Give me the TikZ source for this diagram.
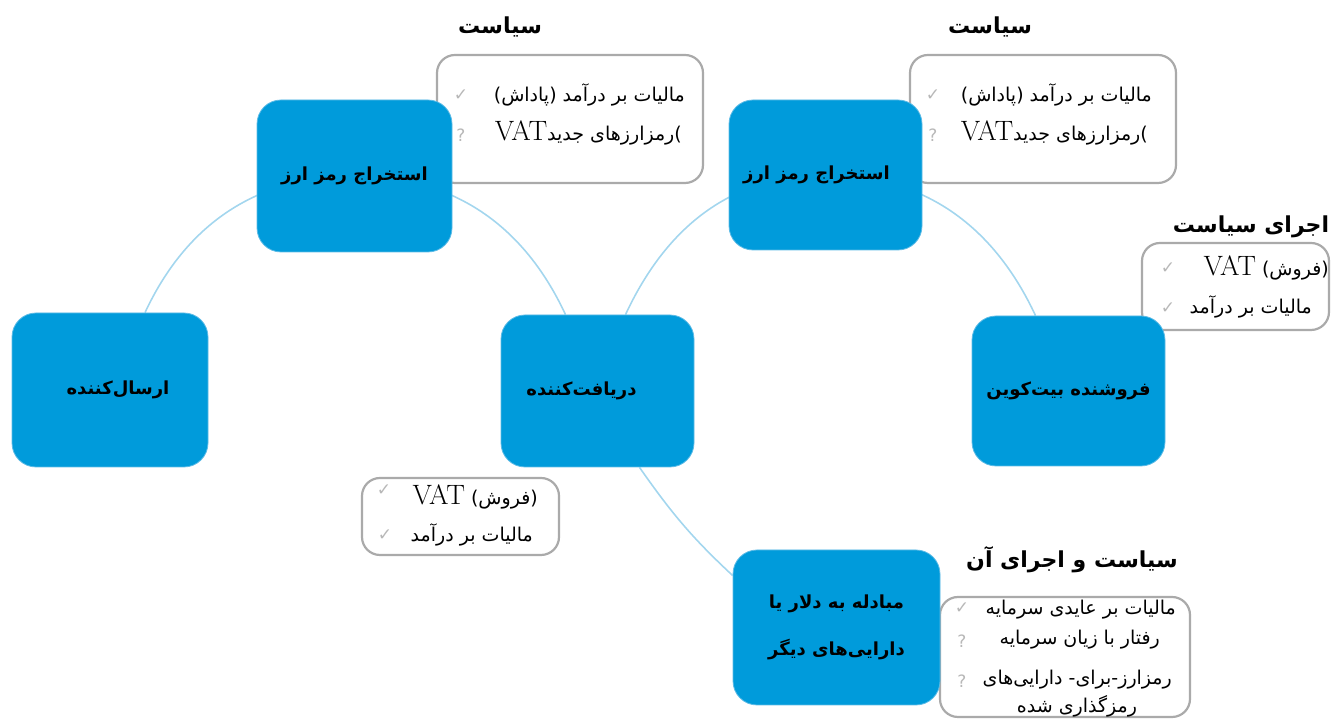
\documentclass[tikz,border=0pt]{standalone}
\usepackage{fontspec}
\newfontfamily\fa[Script=Arabic]{DejaVu Sans}
\newfontfamily\sym{DejaVu Sans}
\TeXXeTstate=1
\usetikzlibrary{backgrounds,calc}
\definecolor{boxblue}{HTML}{009BDB}
\definecolor{boxedge}{HTML}{5DBBE6}
\definecolor{linkblue}{HTML}{A3D6EE}
\definecolor{pborder}{HTML}{AAAAAA}
\definecolor{markgray}{HTML}{B8B8B8}
\tikzset{
  actor/.style={fill=boxblue, draw=boxedge, line width=0.8pt, rounded corners=24pt,
    font=\fa\bfseries\fontsize{18}{21}\selectfont, text=black, align=center},
  policy/.style={fill=white, draw=pborder, line width=2.2pt, rounded corners=18pt},
  ptitle/.style={font=\fa\bfseries\fontsize{22}{25}\selectfont, inner sep=0pt},
  item/.style={font=\fa\fontsize{19}{22}\selectfont, inner sep=0pt, anchor=east},
  chk/.style={font=\sym\fontsize{17}{19}\selectfont, text=markgray, inner sep=0pt},
  link/.style={draw=linkblue, line width=1.6pt},
}
\newcommand{\vatw}{{\rmfamily\fontsize{28}{29}\selectfont VAT}}
\begin{document}
\begin{tikzpicture}[x=1pt,y=1pt]
\useasboundingbox (0,0) rectangle (1331,719);
% policy boxes
\node[policy, minimum width=266pt, minimum height=128pt] (pL) at (570,600) {};
\node[policy, minimum width=266pt, minimum height=128pt] (pR) at (1043,600) {};
\node[policy, minimum width=187pt, minimum height=87pt] (pS) at (1235.5,432.5) {};
\node[policy, minimum width=197pt, minimum height=77pt] (pB1) at (460.5,202.5) {};
\node[policy, minimum width=250pt, minimum height=120pt] (pB2) at (1065,62) {};
% titles
\node[ptitle] (tL) at (500,692) {\beginR سیاست\endR};
\node[ptitle] (tR) at (990,692) {\beginR سیاست\endR};
\node[ptitle] (tS) at (1251,492) {\beginR اجرای سیاست\endR};
\node[ptitle] (tB) at (1072,159) {\beginR سیاست و اجرای آن\endR};
% items: top left
\node[item] (pL1) at (685,624) {\beginR مالیات بر درآمد (پاداش)\endR};
\node[item] (pL2) at (682,586) {\vatw\beginR رمزارزهای جدید\endR{\sym(}};
\node[chk] (cL1) at (461,624) {✓};
\node[chk] (cL2) at (461,584) {?};
% items: top right
\node[item] (pR1) at (1152,624) {\beginR مالیات بر درآمد (پاداش)\endR};
\node[item] (pR2) at (1148,586) {\vatw\beginR رمزارزهای جدید\endR{\sym(}};
\node[chk] (cR1) at (933,624) {✓};
\node[chk] (cR2) at (933,584) {?};
% items: seller policy
\node[item] (pS1) at (1329,451) {\vatw\ \beginR(فروش)\endR};
\node[item] (pS2) at (1312,412) {\beginR مالیات بر درآمد\endR};
\node[chk] (cS1) at (1168,451) {✓};
\node[chk] (cS2) at (1168,411) {✓};
% items: receiver policy
\node[item] (pB11) at (538,222) {\vatw\ \beginR(فروش)\endR};
\node[item] (pB12) at (533,184) {\beginR مالیات بر درآمد\endR};
\node[chk] (cB11) at (384,229) {✓};
\node[chk] (cB12) at (385,184) {✓};
% items: exchange policy
\node[item] (pB21) at (1176,109) {\beginR مالیات بر عایدی سرمایه\endR};
\node[item] (pB22) at (1160,79) {\beginR رفتار با زیان سرمایه\endR};
\node[item] (pB23) at (1172,39) {\beginR رمزارز-برای- دارایی‌های\endR};
\node[item, anchor=center] (pB24) at (1077,13) {\beginR رمزگذاری شده\endR};
\node[chk] (cB21) at (962,111) {✓};
\node[chk] (cB22) at (962,78) {?};
\node[chk] (cB23) at (962,38) {?};
% actor boxes
\node[actor, minimum width=196pt, minimum height=154pt] (sender) at (110,329) {\hspace*{16pt}\beginR ارسال‌کننده\endR};
\node[actor, minimum width=193pt, minimum height=152pt] (receiver) at (597.5,328) {\beginR دریافت‌کننده\endR\hspace*{32pt}};
\node[actor, minimum width=195pt, minimum height=152pt] (mineL) at (354.5,543) {\beginR استخراج رمز ارز\endR};
\node[actor, minimum width=193pt, minimum height=150pt] (mineR) at (825.5,544) {\beginR استخراج رمز ارز\endR\hspace*{18pt}};
\node[actor, minimum width=193pt, minimum height=150pt] (seller) at (1068.5,328) {\beginR فروشنده بیت‌کوین\endR};
\node[actor, minimum width=207pt, minimum height=155pt] (exch) at (836.5,91.5) {\beginR مبادله به دلار یا\endR\\[26pt]\beginR دارایی‌های دیگر\endR};
% connectors
\begin{scope}[on background layer]
\draw[link] ($(sender.north)+(35,0)$) to[out=65,in=180] (mineL.center)
            to[out=0,in=115] ($(receiver.north)+(-32,0)$);
\draw[link] ($(receiver.north)+(28,0)$) to[out=65,in=180] (mineR.center)
            to[out=0,in=115] ($(seller.north)+(-33,0)$);
\draw[link] ($(receiver.south)+(42,0)$) to[out=-55,in=137] ($(exch.west)+(0,52)$);
\end{scope}
\end{tikzpicture}
\end{document}
